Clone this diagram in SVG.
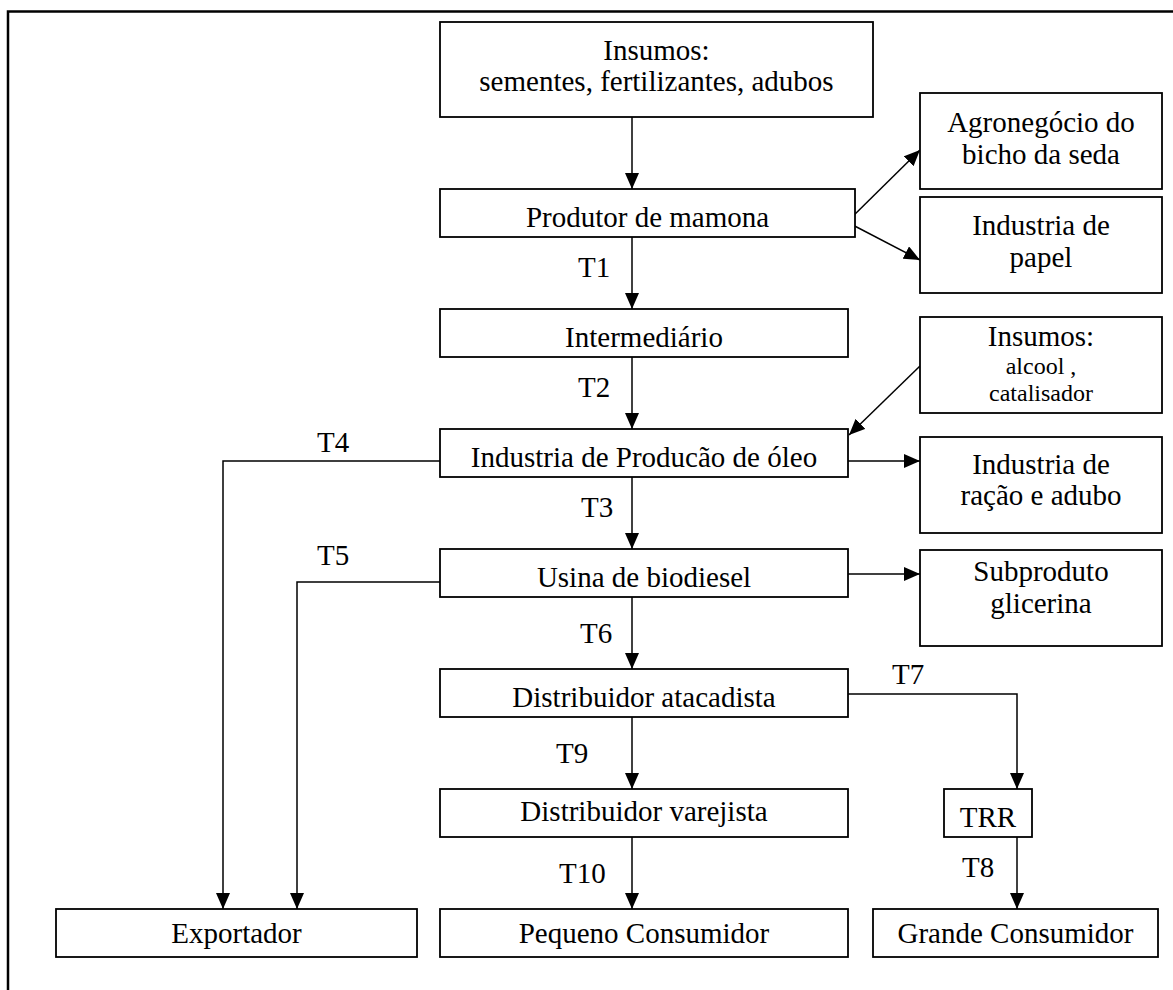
<svg xmlns="http://www.w3.org/2000/svg" width="1173" height="990" viewBox="0 0 1173 990">
<defs>
<marker id="ah" markerWidth="16" markerHeight="14" refX="16" refY="7" orient="auto" markerUnits="userSpaceOnUse">
<path d="M0,0 L16,7 L0,14 Z" fill="#000"/>
</marker>
<style>
.box{fill:#fff;stroke:#000;stroke-width:1.8}
.t{font-family:"Liberation Serif","Times New Roman",serif;font-size:29px;fill:#000;text-anchor:middle}
.s{font-size:24px}
.lbl{font-family:"Liberation Serif","Times New Roman",serif;font-size:29px;fill:#000}
.ca{fill:none;stroke:#000;stroke-width:1.5;marker-end:url(#ah)}
</style>
</defs>
<rect width="1173" height="990" fill="#fff"/>
<path d="M8,990 V11.5 H1173" fill="none" stroke="#000" stroke-width="2.5"/>

<g id="connectors">
<path class="ca" d="M632,117 V189"/>
<path class="ca" d="M632,237 V309"/>
<path class="ca" d="M632,357 V429"/>
<path class="ca" d="M632,477 V549"/>
<path class="ca" d="M632,597 V669"/>
<path class="ca" d="M632,717 V789"/>
<path class="ca" d="M632,837 V909"/>
<path class="ca" d="M847,222 L920,150"/>
<path class="ca" d="M847,222 L920,260"/>
<path class="ca" d="M920,366 L849,435"/>
<path class="ca" d="M848,461 H920"/>
<path class="ca" d="M848,574 H920"/>
<path class="ca" d="M440,461 H223 V909"/>
<path class="ca" d="M440,582 H297 V909"/>
<path class="ca" d="M848,694 H1017 V789"/>
<path class="ca" d="M1017,837 V909"/>
<text class="lbl" x="578" y="277">T1</text>
<text class="lbl" x="578" y="397">T2</text>
<text class="lbl" x="581" y="517">T3</text>
<text class="lbl" x="317" y="452">T4</text>
<text class="lbl" x="317" y="565">T5</text>
<text class="lbl" x="580" y="643">T6</text>
<text class="lbl" x="892" y="684">T7</text>
<text class="lbl" x="962" y="877">T8</text>
<text class="lbl" x="556" y="763">T9</text>
<text class="lbl" x="559" y="883">T10</text>
</g>

<g id="insumos">
<rect class="box" x="440" y="22" width="433" height="95"/>
<text class="t" x="656.5" y="60">Insumos:</text>
<text class="t" x="656.5" y="91">sementes, fertilizantes, adubos</text>
</g>
<g id="produtor">
<rect class="box" x="440" y="189" width="415" height="48"/>
<text class="t" x="647.5" y="227">Produtor de mamona</text>
</g>
<g id="agronegocio">
<rect class="box" x="920" y="93" width="242" height="96"/>
<text class="t" x="1041" y="132">Agronegócio do</text>
<text class="t" x="1041" y="164">bicho da seda</text>
</g>
<g id="papel">
<rect class="box" x="920" y="197" width="242" height="96"/>
<text class="t" x="1041" y="235">Industria de</text>
<text class="t" x="1041" y="267">papel</text>
</g>
<g id="intermediario">
<rect class="box" x="440" y="309" width="408" height="48"/>
<text class="t" x="644" y="347">Intermediário</text>
</g>
<g id="insumos2">
<rect class="box" x="920" y="317" width="242" height="96"/>
<text class="t" x="1041" y="346">Insumos:</text>
<text class="t s" x="1041" y="374">alcool ,</text>
<text class="t s" x="1041" y="401">catalisador</text>
</g>
<g id="industria-oleo">
<rect class="box" x="440" y="429" width="408" height="48"/>
<text class="t" x="644" y="467">Industria de Producão de óleo</text>
</g>
<g id="racao">
<rect class="box" x="920" y="437" width="242" height="96"/>
<text class="t" x="1041" y="474">Industria de</text>
<text class="t" x="1041" y="505">ração e adubo</text>
</g>
<g id="usina">
<rect class="box" x="440" y="549" width="408" height="48"/>
<text class="t" x="644" y="587">Usina de biodiesel</text>
</g>
<g id="subproduto">
<rect class="box" x="920" y="550" width="242" height="96"/>
<text class="t" x="1041" y="581">Subproduto</text>
<text class="t" x="1041" y="613">glicerina</text>
</g>
<g id="atacadista">
<rect class="box" x="440" y="669" width="408" height="48"/>
<text class="t" x="644" y="707">Distribuidor atacadista</text>
</g>
<g id="varejista">
<rect class="box" x="440" y="789" width="408" height="48"/>
<text class="t" x="644" y="821">Distribuidor varejista</text>
</g>
<g id="trr">
<rect class="box" x="944" y="789" width="88" height="48"/>
<text class="t" x="988" y="827">TRR</text>
</g>
<g id="exportador">
<rect class="box" x="56" y="909" width="361" height="48"/>
<text class="t" x="236.5" y="943">Exportador</text>
</g>
<g id="pequeno">
<rect class="box" x="440" y="909" width="408" height="48"/>
<text class="t" x="644" y="943">Pequeno Consumidor</text>
</g>
<g id="grande">
<rect class="box" x="873" y="909" width="285" height="48"/>
<text class="t" x="1015.5" y="943">Grande Consumidor</text>
</g>
</svg>
